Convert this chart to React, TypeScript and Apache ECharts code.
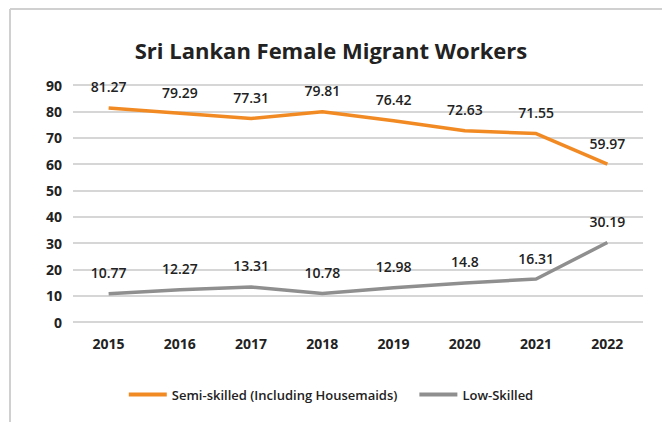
import React, { useEffect, useRef } from "react";
import * as echarts from "echarts";

const years = ["2015", "2016", "2017", "2018", "2019", "2020", "2021", "2022"];
const semiSkilled = [81.27, 79.29, 77.31, 79.81, 76.42, 72.63, 71.55, 59.97];
const lowSkilled = [10.77, 12.27, 13.31, 10.78, 12.98, 14.8, 16.31, 30.19];
const seriesNames = ["Semi-skilled (Including Housemaids)", "Low-Skilled"];
const titleText = "Sri Lankan Female Migrant Workers";

const FONT = "'Open Sans', 'Noto Sans', sans-serif";

export default function App() {
  const ref = useRef<HTMLDivElement>(null);
  useEffect(() => {
    if (!ref.current) return;
    const chart = echarts.init(ref.current, null, { renderer: "svg" });
    const labelStyle = {
      show: true,
      position: "top" as const,
      distance: 14,
      fontFamily: FONT,
      fontSize: 14,
      fontWeight: 600,
      color: "#222",
    };
    chart.setOption({
      animation: false,
      backgroundColor: "#fff",
      title: {
        text: titleText,
        left: "center",
        top: 34,
        textStyle: { fontFamily: FONT, fontSize: 22, fontWeight: 700, color: "#222" },
      },
      grid: { left: 73, right: 19, top: 85, bottom: 100, containLabel: false },
      legend: {
        bottom: 16,
        left: "center",
        icon: "rect",
        itemWidth: 38,
        itemHeight: 4,
        itemGap: 22,
        textStyle: { fontFamily: FONT, fontSize: 13, fontWeight: 600, color: "#222" },
        data: seriesNames,
      },
      xAxis: {
        type: "category",
        data: years,
        boundaryGap: true,
        axisLine: { show: false },
        axisTick: { show: false },
        axisLabel: { fontFamily: FONT, fontSize: 14, fontWeight: 700, color: "#222", margin: 14 },
      },
      yAxis: {
        type: "value",
        min: 0,
        max: 90,
        interval: 10,
        axisLine: { show: false },
        axisTick: { show: false },
        axisLabel: { fontFamily: FONT, fontSize: 14, fontWeight: 700, color: "#222", margin: 11 },
        splitLine: { lineStyle: { color: "#c8c8c8", width: 1.5 } },
      },
      graphic: [
        { type: "line", shape: { x1: 10, y1: 9, x2: 662, y2: 9 }, style: { stroke: "#d0d0d0", lineWidth: 2 } },
        { type: "line", shape: { x1: 10, y1: 9, x2: 10, y2: 422 }, style: { stroke: "#d0d0d0", lineWidth: 2 } },
      ],
      series: [
        {
          name: seriesNames[0],
          type: "line",
          data: semiSkilled,
          symbol: "circle",
          symbolSize: 0.1,
          showSymbol: true,
          lineStyle: { color: "#f28a24", width: 3.5 },
          itemStyle: { color: "#f28a24" },
          label: labelStyle,
        },
        {
          name: seriesNames[1],
          type: "line",
          data: lowSkilled,
          symbol: "circle",
          symbolSize: 0.1,
          showSymbol: true,
          lineStyle: { color: "#8f8f8f", width: 3.5 },
          itemStyle: { color: "#8f8f8f" },
          label: labelStyle,
        },
      ],
    });
    return () => chart.dispose();
  }, []);
  return (
    <div
      ref={ref}
      style={{ position: "fixed", left: 0, top: 0, width: 662, height: 422 }}
    />
  );
}
